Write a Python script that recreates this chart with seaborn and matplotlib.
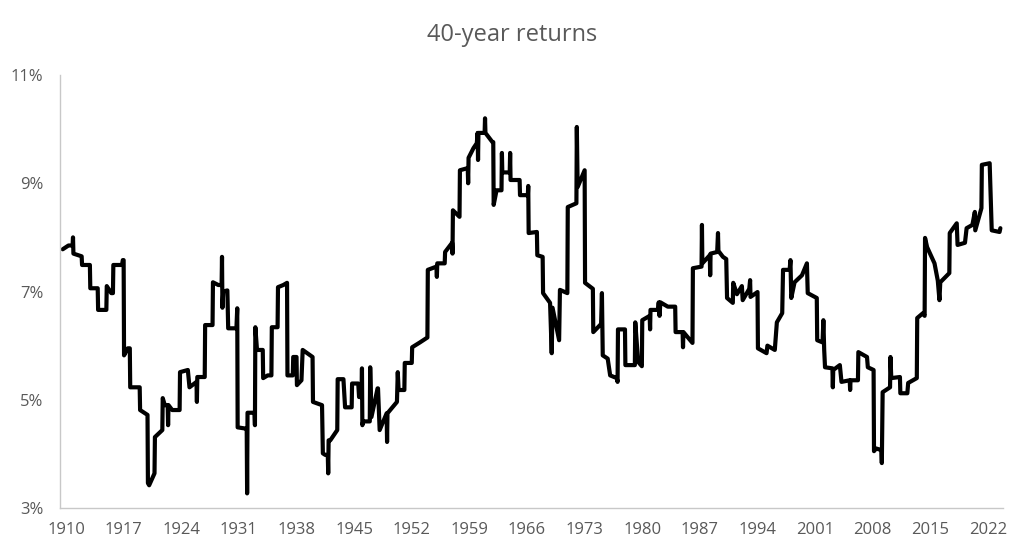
import matplotlib
matplotlib.use("Agg")
import matplotlib.pyplot as plt
import pandas as pd
import seaborn as sns
from matplotlib.ticker import FuncFormatter

# ---- data (year, 40-year annualised return in %) ----
years = [
    1909.6, 1910.3, 1910.8, 1910.85, 1910.9, 1911.5, 1911.9, 1911.95, 1912.9, 1912.95,
    1913.85, 1913.9, 1914.9, 1914.95, 1915.5, 1915.7, 1915.75, 1916.8, 1916.9, 1917.0,
    1917.05, 1917.5, 1917.75, 1917.8, 1918.95, 1919.0, 1919.9, 1919.95, 1920.1, 1920.75,
    1920.8, 1921.7, 1921.75, 1922.0, 1922.35, 1922.4, 1922.45, 1922.9, 1923.8, 1923.85,
    1924.8, 1925.0, 1925.85, 1925.9, 1925.95, 1926.85, 1926.9, 1927.8, 1927.85, 1928.5,
    1928.9, 1928.95, 1929.0, 1929.1, 1929.6, 1929.7, 1930.7, 1930.8, 1930.85, 1931.7,
    1931.95, 1932.0, 1932.05, 1932.9, 1932.95, 1933.0, 1933.2, 1933.9, 1933.95, 1934.5,
    1934.95, 1935.0, 1935.7, 1935.75, 1936.4, 1936.85, 1936.9, 1937.55, 1937.6, 1938.0,
    1938.05, 1938.6, 1938.75, 1939.95, 1940.0, 1941.1, 1941.2, 1941.5, 1941.8, 1941.85,
    1941.9, 1942.1, 1942.95, 1943.0, 1943.7, 1943.9, 1944.7, 1944.75, 1945.5, 1945.6,
    1945.9, 1945.95, 1946.0, 1946.1, 1946.9, 1946.95, 1947.1, 1947.85, 1947.9, 1948.1,
    1948.95, 1949.0, 1949.05, 1950.2, 1950.3, 1950.4, 1951.1, 1951.15, 1952.0, 1952.05,
    1953.0, 1953.9, 1953.95, 1955.0, 1955.05, 1955.1, 1956.0, 1956.05, 1956.9, 1956.95,
    1957.0, 1957.8, 1957.85, 1958.8, 1958.85, 1958.9, 1959.5, 1959.9, 1960.0, 1960.05,
    1960.1, 1960.85, 1960.9, 1960.95, 1961.8, 1961.9, 1961.95, 1962.3, 1962.9, 1962.95,
    1963.0, 1963.9, 1963.95, 1964.0, 1965.1, 1965.15, 1966.1, 1966.15, 1966.2, 1967.2,
    1967.25, 1967.9, 1967.95, 1968.8, 1969.0, 1969.1, 1969.9, 1970.0, 1970.9, 1970.95,
    1972.0, 1972.05, 1972.15, 1973.0, 1973.05, 1974.0, 1974.05, 1975.0, 1975.1, 1975.2,
    1975.8, 1976.1, 1976.9, 1977.0, 1977.05, 1977.9, 1977.95, 1979.1, 1979.15, 1979.5,
    1979.95, 1980.0, 1980.9, 1980.95, 1981.0, 1981.9, 1982.0, 1982.1, 1982.2, 1983.1,
    1984.0, 1984.05, 1984.9, 1984.95, 1985.0, 1986.1, 1986.15, 1987.2, 1987.25, 1987.3,
    1988.2, 1988.25, 1988.3, 1989.1, 1989.2, 1989.25, 1989.8, 1990.2, 1990.3, 1991.0,
    1991.05, 1991.5, 1992.1, 1992.2, 1993.0, 1993.1, 1993.15, 1994.0, 1994.05, 1995.1,
    1995.2, 1996.1, 1996.35, 1997.0, 1997.1, 1997.9, 1998.0, 1998.1, 1998.5, 1999.4,
    2000.0, 2000.1, 2001.2, 2001.25, 2001.9, 2002.0, 2002.1, 2002.2, 2003.1, 2003.15,
    2003.2, 2004.0, 2004.2, 2005.2, 2005.25, 2005.3, 2006.2, 2006.25, 2007.3, 2007.4,
    2008.1, 2008.15, 2008.4, 2009.05, 2009.1, 2009.2, 2010.1, 2010.15, 2010.25, 2011.3,
    2011.35, 2012.2, 2012.3, 2013.35, 2013.4, 2014.1, 2014.3, 2014.35, 2014.6, 2015.5,
    2015.9, 2016.1, 2016.2, 2017.3, 2017.35, 2018.2, 2018.3, 2019.2, 2019.4, 2020.1,
    2020.4, 2020.45, 2021.2, 2021.25, 2022.2, 2022.45, 2023.4, 2023.5,
]
returns = [
    7.78, 7.85, 7.85, 8.00, 7.70, 7.67, 7.65, 7.49, 7.49, 7.06,
    7.06, 6.66, 6.66, 7.10, 6.97, 6.97, 7.49, 7.49, 7.58, 7.58,
    5.82, 5.95, 5.95, 5.23, 5.23, 4.81, 4.72, 3.46, 3.42, 3.64,
    4.31, 4.44, 5.03, 4.90, 4.90, 4.53, 4.90, 4.81, 4.81, 5.51,
    5.55, 5.23, 5.33, 4.96, 5.42, 5.42, 6.38, 6.38, 7.17, 7.12,
    7.12, 7.64, 6.70, 7.00, 7.02, 6.32, 6.32, 6.69, 4.49, 4.47,
    4.47, 3.27, 4.76, 4.76, 4.53, 6.34, 5.92, 5.92, 5.40, 5.45,
    5.45, 6.34, 6.34, 7.08, 7.12, 7.16, 5.45, 5.45, 5.79, 5.79,
    5.27, 5.36, 5.92, 5.79, 4.96, 4.90, 4.01, 3.98, 3.98, 3.64,
    4.25, 4.25, 4.44, 5.38, 5.38, 4.86, 4.86, 5.30, 5.30, 5.05,
    5.05, 5.58, 4.53, 4.60, 4.60, 5.60, 4.68, 5.21, 5.21, 4.44,
    4.75, 4.22, 4.75, 4.96, 5.51, 5.18, 5.18, 5.68, 5.68, 5.97,
    6.06, 6.15, 7.40, 7.46, 7.27, 7.52, 7.52, 7.73, 7.90, 7.70,
    8.50, 8.38, 9.24, 9.28, 9.00, 9.47, 9.65, 9.74, 9.93, 9.43,
    9.93, 9.93, 10.20, 9.93, 9.76, 9.76, 8.60, 8.87, 8.87, 9.56,
    9.20, 9.20, 9.56, 9.06, 9.06, 8.78, 8.78, 8.95, 8.08, 8.10,
    7.67, 7.64, 6.97, 6.79, 5.86, 6.70, 6.10, 7.03, 6.97, 8.56,
    8.63, 10.04, 8.93, 9.24, 7.16, 7.05, 6.25, 6.40, 6.97, 5.82,
    5.76, 5.45, 5.40, 5.33, 6.30, 6.30, 5.64, 5.64, 6.43, 5.70,
    5.62, 6.47, 6.55, 6.30, 6.66, 6.66, 6.80, 6.55, 6.80, 6.72,
    6.72, 6.25, 6.25, 5.97, 6.25, 6.05, 7.43, 7.46, 8.23, 7.52,
    7.67, 7.30, 7.70, 7.73, 8.08, 7.75, 7.64, 7.60, 6.88, 6.79,
    7.16, 6.95, 7.10, 6.84, 7.05, 7.21, 6.90, 6.99, 5.95, 5.86,
    6.00, 5.92, 6.43, 6.60, 7.40, 7.40, 7.58, 6.88, 7.17, 7.30,
    7.52, 6.97, 6.88, 6.10, 6.06, 6.47, 5.92, 5.60, 5.58, 5.23,
    5.55, 5.64, 5.33, 5.36, 5.18, 5.36, 5.36, 5.88, 5.79, 5.60,
    5.55, 4.05, 4.10, 4.07, 3.83, 5.14, 5.23, 5.79, 5.40, 5.42,
    5.12, 5.12, 5.31, 5.40, 6.51, 6.60, 6.55, 7.99, 7.82, 7.52,
    7.20, 6.84, 7.17, 7.34, 8.08, 8.26, 7.86, 7.90, 8.17, 8.23,
    8.47, 8.13, 8.54, 9.34, 9.37, 8.13, 8.10, 8.17,
]

tick_years = list(range(1910, 2023, 7))
y_ticks = [3, 5, 7, 9, 11]
chart_title = "40-year returns"

df = pd.DataFrame({"year": years, "ret": returns})

sns.set_style("white")
plt.rcParams["font.family"] = ["Open Sans", "DejaVu Sans"]

fig = plt.figure(figsize=(10.24, 5.55), dpi=100)
ax = fig.add_axes([60 / 1024, 47 / 555, 943 / 1024, 433 / 555])

sns.lineplot(data=df, x="year", y="ret", estimator=None, sort=False,
             color="black", linewidth=3.0, ax=ax,
             solid_joinstyle="round", solid_capstyle="round")

ax.set_xlim(1909.27, 2023.82)
ax.set_ylim(3, 11)
ax.set_xticks(tick_years)
ax.set_yticks(y_ticks)
ax.yaxis.set_major_formatter(FuncFormatter(lambda v, _: f"{v:.0f}%"))
ax.tick_params(axis="both", length=0, labelsize=12, colors="#595959")
ax.tick_params(axis="y", pad=12)
ax.tick_params(axis="x", pad=10)
ax.set_xlabel("")
ax.set_ylabel("")

for side in ["top", "right"]:
    ax.spines[side].set_visible(False)
for side in ["left", "bottom"]:
    ax.spines[side].set_color("#c8c8c8")
    ax.spines[side].set_linewidth(1.0)

fig.text(0.5, 1 - 35 / 555, chart_title, ha="center", va="center",
         fontsize=17, color="#595959")

fig.savefig("out.png", dpi=100)
plt.close(fig)
